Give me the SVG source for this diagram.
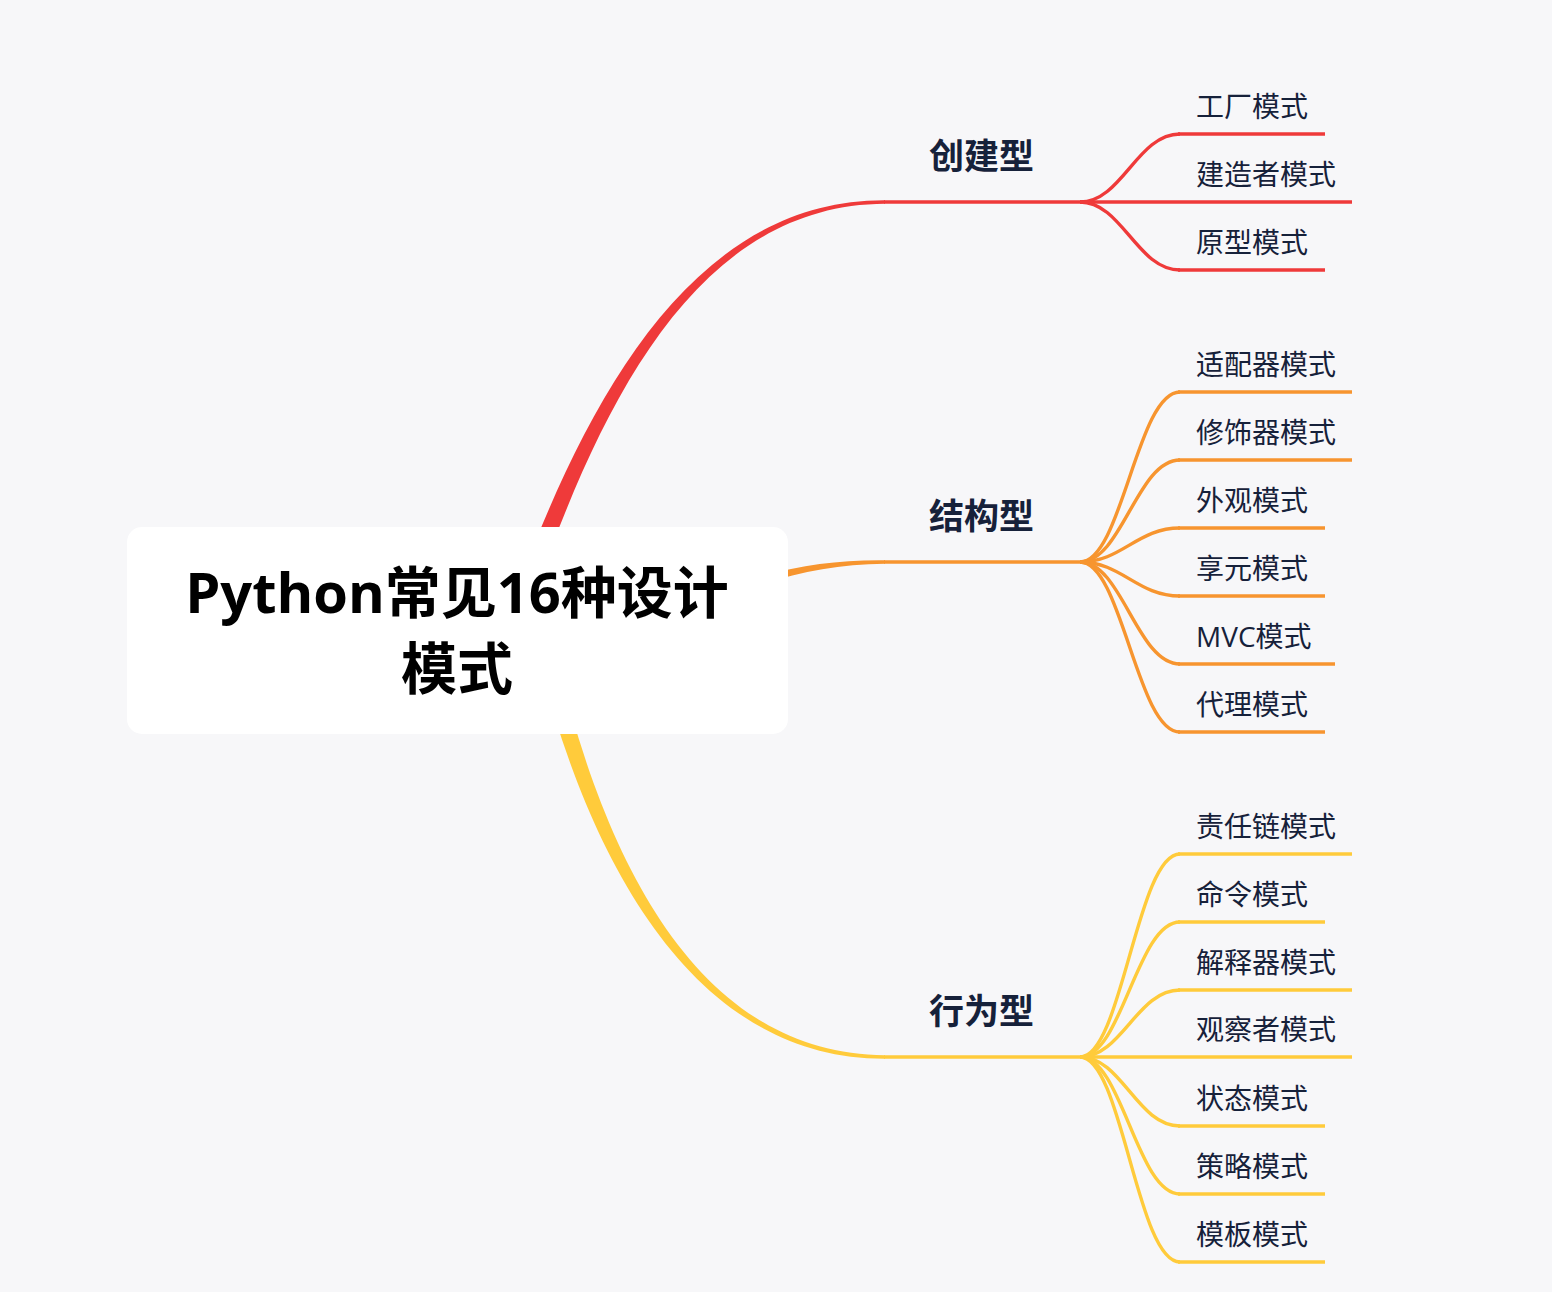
<svg xmlns="http://www.w3.org/2000/svg" width="1552" height="1292" viewBox="0 0 1552 1292">
<style>
.bg{fill:#f7f7f9}
.red{stroke:#ef3a3a}
.org{stroke:#f7952f}
.yel{stroke:#ffcb3b}
.ln{fill:none;stroke-width:3.4;stroke-linecap:butt}
.redf{fill:#ef3a3a}
.orgf{fill:#f7952f}
.yelf{fill:#ffcb3b}
.root{font-family:"Open Sans","Noto Sans CJK SC",sans-serif;font-weight:700;font-size:56px;fill:#000}
.main{font-family:"Noto Sans CJK SC",sans-serif;font-weight:700;font-size:35px;fill:#16213a}
.sub{font-family:"Open Sans","Noto Sans CJK SC",sans-serif;font-size:28px;fill:#16213a}
</style>
<rect class="bg" x="0" y="0" width="1552" height="1292"/>
<g id="connectors">
  <path class="redf" d="M521.6 576.9 C593.4 387.6 698.3 199.5 885 200.3 L885 203.7 C701.7 204.5 606.6 392.4 538.4 583.1 Z"/>
  <path class="orgf" d="M698.3 595.3 C768.7 571.2 819.8 559.5 885 560.3 L885 563.7 C820.2 564.5 771.3 578.8 701.7 604.7 Z"/>
  <path class="yelf" d="M539.3 662.2 C593.2 871.7 698.4 1059.5 885 1058.7 L885 1055.3 C701.7 1054.5 606.8 868.3 556.7 657.8 Z"/>
  <path class="ln red" d="M884 202 L1081 202"/>
  <path class="ln red" d="M1080 202 C1122 202 1137 134 1180 134"/>
  <path class="ln red" d="M1080 202 C1122 202 1137 270 1180 270"/>
  <path class="ln org" d="M884 562 L1081 562"/>
  <path class="ln org" d="M1080 562 C1122 562 1137 392 1180 392"/>
  <path class="ln org" d="M1080 562 C1122 562 1137 460 1180 460"/>
  <path class="ln org" d="M1080 562 C1122 562 1137 528 1180 528"/>
  <path class="ln org" d="M1080 562 C1122 562 1137 596 1180 596"/>
  <path class="ln org" d="M1080 562 C1122 562 1137 664 1180 664"/>
  <path class="ln org" d="M1080 562 C1122 562 1137 732 1180 732"/>
  <path class="ln yel" d="M884 1057 L1081 1057"/>
  <path class="ln yel" d="M1080 1057 C1122 1057 1137 854 1180 854"/>
  <path class="ln yel" d="M1080 1057 C1122 1057 1137 922 1180 922"/>
  <path class="ln yel" d="M1080 1057 C1122 1057 1137 990 1180 990"/>
  <path class="ln yel" d="M1080 1057 C1122 1057 1137 1126 1180 1126"/>
  <path class="ln yel" d="M1080 1057 C1122 1057 1137 1194 1180 1194"/>
  <path class="ln yel" d="M1080 1057 C1122 1057 1137 1262 1180 1262"/>
</g>
<g id="root">
  <rect x="127" y="527" width="661" height="207" rx="15" fill="#ffffff"/>
  <text class="root" x="457" y="613" text-anchor="middle">Python常见16种设计</text>
  <text class="root" x="457" y="689" text-anchor="middle">模式</text>
</g>
<g id="n-create"><text class="main" x="929" y="169">创建型</text></g>
<g id="n-struct"><text class="main" x="929" y="529">结构型</text></g>
<g id="n-behav"><text class="main" x="929" y="1024">行为型</text></g>

<g id="c1"><text class="sub" x="1196" y="117">工厂模式</text><path class="ln red" d="M1178 134 H1325"/></g>
<g id="c2"><text class="sub" x="1196" y="185">建造者模式</text><path class="ln red" d="M1080 202 H1352"/></g>
<g id="c3"><text class="sub" x="1196" y="253">原型模式</text><path class="ln red" d="M1178 270 H1325"/></g>

<g id="s1"><text class="sub" x="1196" y="375">适配器模式</text><path class="ln org" d="M1178 392 H1352"/></g>
<g id="s2"><text class="sub" x="1196" y="443">修饰器模式</text><path class="ln org" d="M1178 460 H1352"/></g>
<g id="s3"><text class="sub" x="1196" y="511">外观模式</text><path class="ln org" d="M1178 528 H1325"/></g>
<g id="s4"><text class="sub" x="1196" y="579">享元模式</text><path class="ln org" d="M1178 596 H1325"/></g>
<g id="s5"><text class="sub" x="1196" y="647">MVC模式</text><path class="ln org" d="M1178 664 H1335"/></g>
<g id="s6"><text class="sub" x="1196" y="715">代理模式</text><path class="ln org" d="M1178 732 H1325"/></g>

<g id="b1"><text class="sub" x="1196" y="837">责任链模式</text><path class="ln yel" d="M1178 854 H1352"/></g>
<g id="b2"><text class="sub" x="1196" y="905">命令模式</text><path class="ln yel" d="M1178 922 H1325"/></g>
<g id="b3"><text class="sub" x="1196" y="973">解释器模式</text><path class="ln yel" d="M1178 990 H1352"/></g>
<g id="b4"><text class="sub" x="1196" y="1040">观察者模式</text><path class="ln yel" d="M1080 1057 H1352"/></g>
<g id="b5"><text class="sub" x="1196" y="1109">状态模式</text><path class="ln yel" d="M1178 1126 H1325"/></g>
<g id="b6"><text class="sub" x="1196" y="1177">策略模式</text><path class="ln yel" d="M1178 1194 H1325"/></g>
<g id="b7"><text class="sub" x="1196" y="1245">模板模式</text><path class="ln yel" d="M1178 1262 H1325"/></g>
</svg>
